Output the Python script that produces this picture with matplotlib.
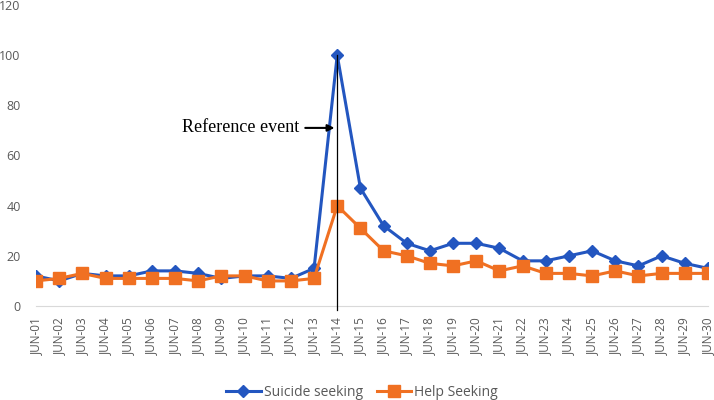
import matplotlib
matplotlib.use("Agg")
import matplotlib.pyplot as plt

days = [f"JUN-{d:02d}" for d in range(1, 31)]
suicide_seeking = [12, 10, 13, 12, 12, 14, 14, 13, 11, 12, 12, 11, 15, 100, 47,
                   32, 25, 22, 25, 25, 23, 18, 18, 20, 22, 18, 16, 20, 17, 15]
help_seeking = [10, 11, 13, 11, 11, 11, 11, 10, 12, 12, 10, 10, 11, 40, 31,
                22, 20, 17, 16, 18, 14, 16, 13, 13, 12, 14, 12, 13, 13, 13]
event_day = "JUN-14"
yticks = [0, 20, 40, 60, 80, 100, 120]

blue = "#2356C0"
orange = "#F07022"
grey = "#595959"

fig = plt.figure(figsize=(7.14, 4), dpi=100)
ax = fig.add_axes([0.0504, 0.235, 0.9412, 0.7525])

x = list(range(len(days)))
ax.plot(x, suicide_seeking, color=blue, lw=2.2, marker="D", ms=6,
        label="Suicide seeking", zorder=3)
ax.plot(x, help_seeking, color=orange, lw=2.2, marker="s", ms=8,
        label="Help Seeking", zorder=3)

# vertical marker line and label for the reference event
ev = days.index(event_day)
ax.plot([ev, ev], [-1.5, suicide_seeking[ev]], color="black", lw=0.9,
        clip_on=False, zorder=4)
ax.annotate("", xy=(ev, 71), xytext=(ev - 1.5, 71),
            arrowprops=dict(arrowstyle="-|>", color="black", lw=1.5,
                            mutation_scale=10), zorder=5)
ax.text(ev - 1.65, 71, "Reference event", family="Liberation Serif",
        fontsize=13, ha="right", va="center")

ax.set_xlim(0, len(days) - 1)
ax.set_ylim(0, 120)
ax.set_yticks(yticks)
ax.set_xticks(x)
ax.set_xticklabels(days, rotation=90, fontsize=8.5, color=grey,
                   family="Open Sans")
for lbl in ax.get_yticklabels():
    lbl.set_color(grey)
    lbl.set_fontsize(9)
    lbl.set_family("Open Sans")
ax.tick_params(axis="x", length=0, pad=8)
ax.tick_params(axis="y", length=0, pad=11)
for side in ["left", "right", "top"]:
    ax.spines[side].set_visible(False)
ax.spines["bottom"].set_color("#D9D9D9")

leg = ax.legend(loc="lower center", bbox_to_anchor=(0.485, -0.355), ncol=2,
                frameon=False, prop={"family": "Open Sans", "size": 10},
                handlelength=2.5, columnspacing=1.0, handletextpad=0.2)
for t in leg.get_texts():
    t.set_color(grey)

fig.savefig("out.png", dpi=100)
